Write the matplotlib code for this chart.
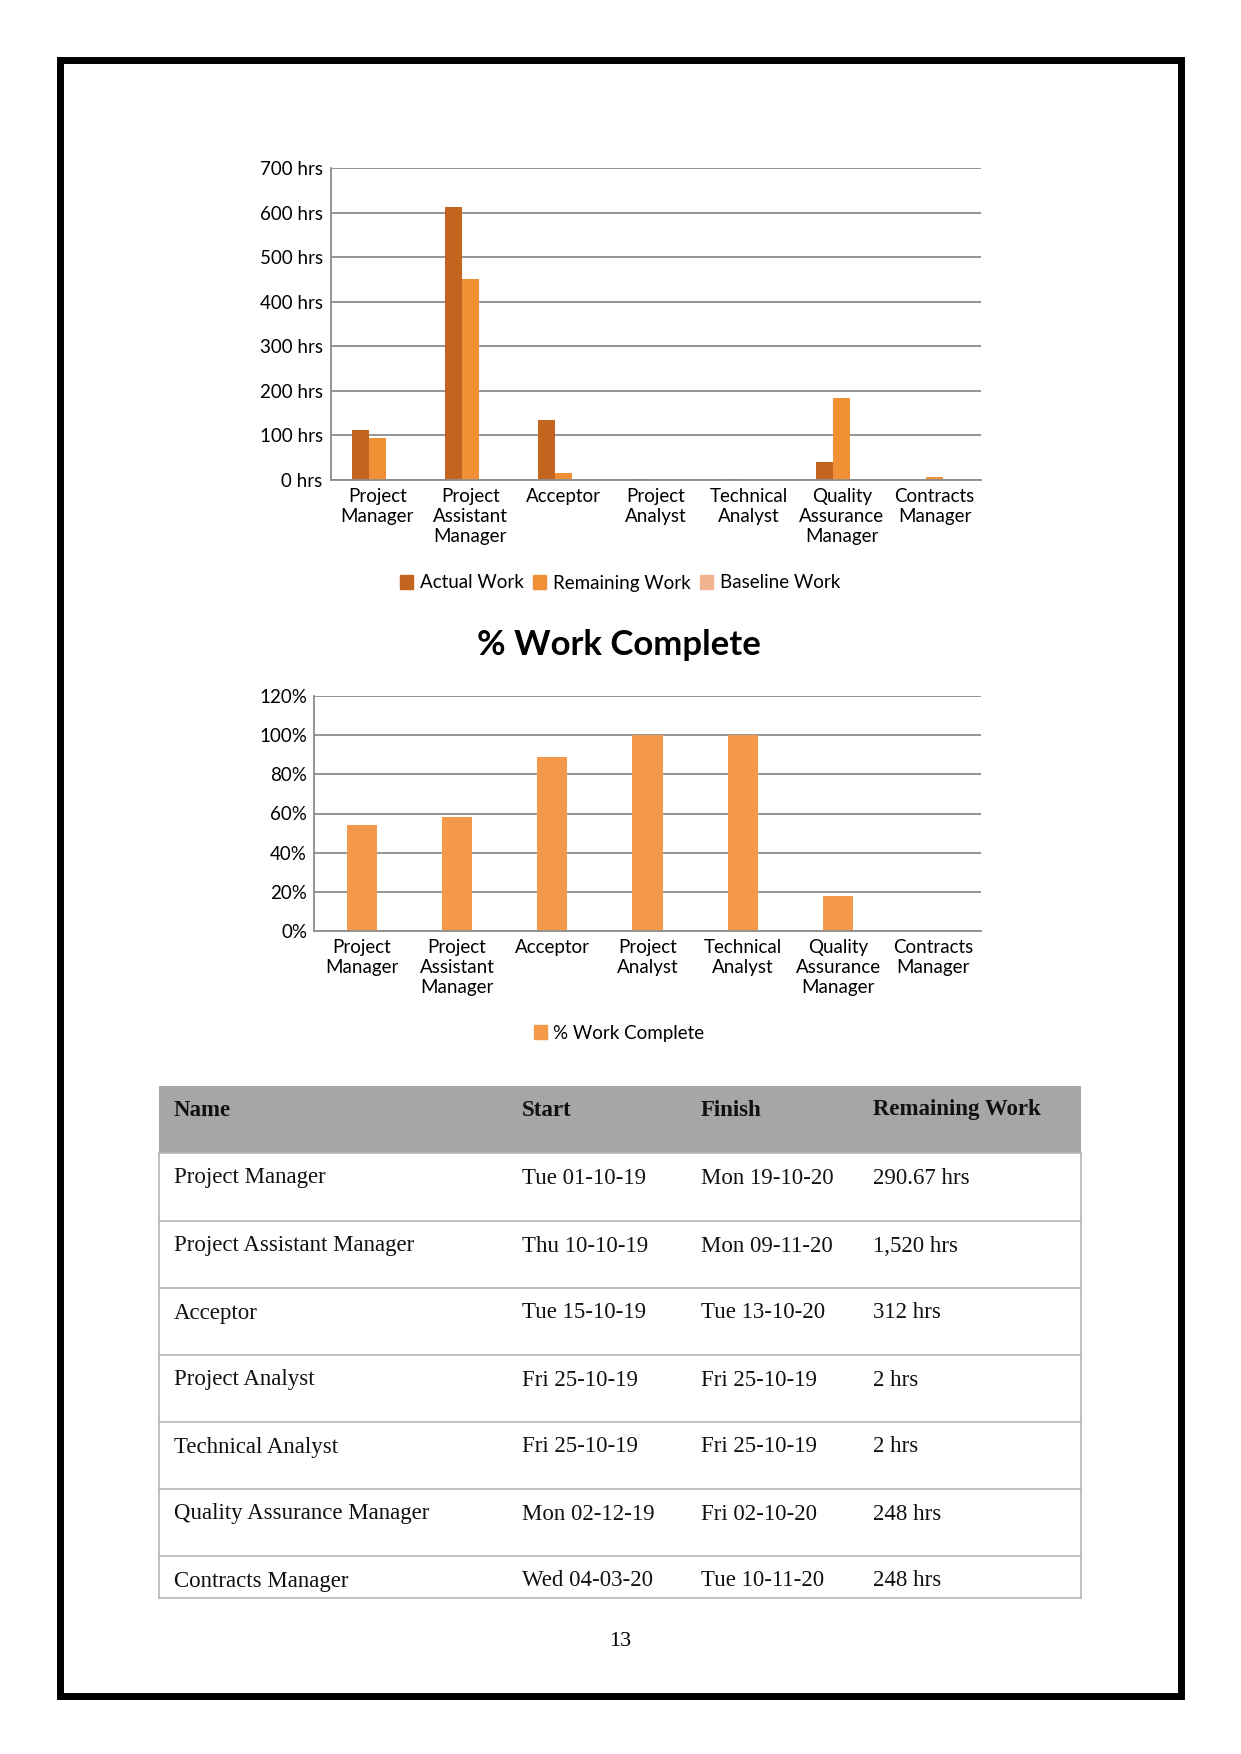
import matplotlib
matplotlib.use('Agg')
import matplotlib.pyplot as plt
from matplotlib.patches import Rectangle, Patch
import numpy as np

# ---- data ----
roles = ['Project\nManager', 'Project\nAssistant\nManager', 'Acceptor', 'Project\nAnalyst',
         'Technical\nAnalyst', 'Quality\nAssurance\nManager', 'Contracts\nManager']
actual_work = [112, 612, 135, 3, 3, 40, 1]
remaining_work = [95, 452, 16, 1, 1, 185, 7]
baseline_work = [1, 1, 1, 1, 1, 1, 1]
work_ticks = [0, 100, 200, 300, 400, 500, 600, 700]

pct_complete = [54, 58, 89, 100, 100, 18, 0]
pct_ticks = [0, 20, 40, 60, 80, 100, 120]

tbl_header = ['Name', 'Start', 'Finish', 'Remaining Work']
tbl_names = ['Project Manager', 'Project Assistant Manager', 'Acceptor', 'Project Analyst',
             'Technical Analyst', 'Quality Assurance Manager', 'Contracts Manager']
tbl_start = ['Tue 01-10-19', 'Thu 10-10-19', 'Tue 15-10-19', 'Fri 25-10-19',
             'Fri 25-10-19', 'Mon 02-12-19', 'Wed 04-03-20']
tbl_finish = ['Mon 19-10-20', 'Mon 09-11-20', 'Tue 13-10-20', 'Fri 25-10-19',
              'Fri 25-10-19', 'Fri 02-10-20', 'Tue 10-11-20']
tbl_remaining = ['290.67 hrs', '1,520 hrs', '312 hrs', '2 hrs', '2 hrs', '248 hrs', '248 hrs']

W, H = 1241, 1754
c_actual = '#C4651F'
c_remain = '#F08F34'
c_base = '#F1B28F'
c_pct = '#F4994A'
grid_c = '#8C8C8C'
chart_font = 'Lato'
fs = 13.5

fig = plt.figure(figsize=(W / 100, H / 100), dpi=100)


def px_axes(left, top, right, bottom):
    return fig.add_axes([left / W, 1 - bottom / H, (right - left) / W, (bottom - top) / H])


def style_axes(ax):
    ax.set_axisbelow(True)
    ax.yaxis.grid(True, color=grid_c, linewidth=1.3)
    for s in ['top', 'right']:
        ax.spines[s].set_visible(False)
    for s in ['left', 'bottom']:
        ax.spines[s].set_color(grid_c)
        ax.spines[s].set_linewidth(1.3)
    ax.tick_params(length=0, pad=6, labelsize=fs)
    for lbl in ax.get_xticklabels() + ax.get_yticklabels():
        lbl.set_fontfamily(chart_font)
        lbl.set_linespacing(1.22)


# ---- chart 1: work hours ----
ax1 = px_axes(331, 168, 981, 480)
x = np.arange(len(roles))
bw = 0.183
ax1.bar(x - bw, actual_work, bw, color=c_actual, label='Actual Work')
ax1.bar(x, remaining_work, bw, color=c_remain, label='Remaining Work')
ax1.bar(x + bw, baseline_work, bw, color=c_base, label='Baseline Work')
ax1.set_xlim(-0.5, len(roles) - 0.5)
ax1.set_ylim(0, 700)
ax1.set_yticks(work_ticks)
ax1.set_yticklabels([f'{v} hrs' for v in work_ticks])
ax1.set_xticks(x)
ax1.set_xticklabels(roles, va='top')
style_axes(ax1)
fig.legend(handles=[Patch(color=c_actual, label='Actual Work'),
                    Patch(color=c_remain, label='Remaining Work'),
                    Patch(color=c_base, label='Baseline Work')],
           loc='center', bbox_to_anchor=(620 / W, 1 - 583 / H), ncol=3, frameon=False,
           prop={'family': chart_font, 'size': fs}, handlelength=0.7, handleheight=0.7,
           handletextpad=0.35, columnspacing=0.5)

# ---- chart 2: % work complete ----
ax2 = px_axes(314, 696, 981, 931)
ax2.bar(x, pct_complete, 0.315, color=c_pct)
ax2.set_xlim(-0.5, len(roles) - 0.5)
ax2.set_ylim(0, 120)
ax2.set_yticks(pct_ticks)
ax2.set_yticklabels([f'{v}%' for v in pct_ticks])
ax2.set_xticks(x)
ax2.set_xticklabels(roles, va='top')
style_axes(ax2)
ax2.tick_params(axis='y', pad=5)
fig.text(619 / W, 1 - 645 / H, '% Work Complete', ha='center', va='center',
         fontsize=25, fontweight='bold', family=chart_font)
fig.legend(handles=[Patch(color=c_pct, label='% Work Complete')],
           loc='center', bbox_to_anchor=(619 / W, 1 - 1033 / H), frameon=False,
           prop={'family': chart_font, 'size': fs}, handlelength=0.7, handleheight=0.7,
           handletextpad=0.35)

# ---- page overlay: border, table, page number ----
pg = fig.add_axes([0, 0, 1, 1], zorder=-1)
pg.set_xlim(0, W)
pg.set_ylim(H, 0)
pg.axis('off')
pg.add_patch(Rectangle((59.5, 59.5), 1121, 1636, fill=False, edgecolor='black', linewidth=5.0))

t_left, t_right = 159, 1081
row_edges = [1086, 1153, 1221, 1288, 1355, 1422, 1489, 1556, 1598]
col_x = [174, 522, 701, 873]
line_c = '#B5B5B5'
pg.add_patch(Rectangle((t_left, row_edges[0]), t_right - t_left, row_edges[1] - row_edges[0],
                       facecolor='#A6A6A6', edgecolor='none'))
for y in row_edges[1:]:
    pg.plot([t_left, t_right], [y, y], color=line_c, linewidth=1.2)
pg.plot([t_left, t_left], [row_edges[1], row_edges[-1]], color=line_c, linewidth=1.2)
pg.plot([t_right, t_right], [row_edges[1], row_edges[-1]], color=line_c, linewidth=1.2)

for cx, h in zip(col_x, tbl_header):
    pg.text(cx, row_edges[0] + 24, h, ha='left', va='center', fontsize=16.5,
            fontweight='bold', family='Liberation Serif', color='#111111')
for i in range(len(tbl_names)):
    ty = row_edges[i + 1] + 25
    for cx, val in zip(col_x, [tbl_names[i], tbl_start[i], tbl_finish[i], tbl_remaining[i]]):
        pg.text(cx, ty, val, ha='left', va='center', fontsize=16.5,
                family='Liberation Serif', color='#111111')

pg.text(620, 1641, '13', ha='center', va='center', fontsize=16, family='Liberation Serif')

fig.savefig('out.png', dpi=100)
